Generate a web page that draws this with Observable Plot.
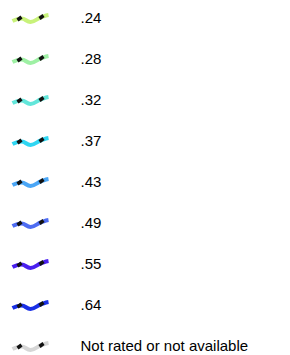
<!DOCTYPE html>
<html>
<head>
<meta charset="utf-8">
<script src="https://cdn.jsdelivr.net/npm/d3@7"></script>
<script src="https://cdn.jsdelivr.net/npm/@observablehq/plot@0.6"></script>
<style>
  html, body { margin: 0; padding: 0; background: #fff; }
</style>
</head>
<body>
<div id="chart"></div>
<script>
const labels = [".24", ".28", ".32", ".37", ".43", ".49", ".55", ".64", "Not rated or not available"];
const colors = ["#c8f27a", "#9ef0a4", "#62e6da", "#2fd6f2", "#4aa6f6", "#4e6cf2", "#4a20f0", "#1a30e6", "#d6d6d6"];

const rows = labels.map(label => ({label}));

const wave = {
  draw(ctx) {
    ctx.moveTo(-18, 2.5);
    ctx.bezierCurveTo(-15, 1, -12, 0, -9, 0);
    ctx.bezierCurveTo(-5, 0, -4, 3.5, 0, 3.5);
    ctx.bezierCurveTo(4, 3.5, 7, 0, 10, -1);
    ctx.bezierCurveTo(13, -2, 15, -3, 18, -3.5);
  }
};
const ticks = {
  draw(ctx) {
    ctx.moveTo(-13, 1.5);
    ctx.lineTo(-9, -1.5);
    ctx.moveTo(9, 0);
    ctx.lineTo(13, -3);
  }
};

const chart = Plot.plot({
  width: 290,
  height: 355,
  margin: 0,
  style: {background: "#fff", fontFamily: "Arial, 'Liberation Sans', sans-serif"},
  x: {axis: null, domain: [0, 1]},
  y: {type: "point", domain: labels, range: [17, 346], padding: 0, axis: null},
  color: {type: "ordinal", domain: labels, range: colors},
  marks: [
    Plot.dot(rows, {y: "label", frameAnchor: "left", dx: 30, symbol: wave, r: 10, fill: "none", stroke: "label", strokeWidth: 4}),
    Plot.dot(rows, {y: "label", frameAnchor: "left", dx: 30, symbol: ticks, r: 10, fill: "none", stroke: "#111", strokeWidth: 3.5}),
    Plot.text(rows, {y: "label", text: "label", frameAnchor: "left", dx: 80, textAnchor: "start", fontSize: 15, fill: "#000"})
  ]
});
document.getElementById("chart").appendChild(chart);
</script>
</body>
</html>
